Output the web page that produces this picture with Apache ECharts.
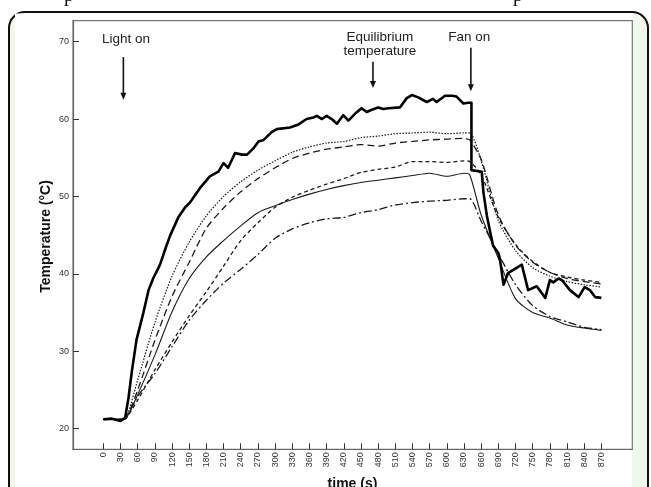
<!DOCTYPE html>
<html><head><meta charset="utf-8">
<script src="https://cdn.jsdelivr.net/npm/echarts@6/dist/echarts.min.js"></script>
<style>html,body{margin:0;padding:0;background:#fff;}#c{width:651px;height:487px;}</style>
</head><body><div id="c"></div>
<script>
// ---- data ----
const xTickValues = [0,30,60,90,120,150,180,210,240,270,300,330,360,390,420,450,480,510,540,570,600,630,660,690,720,750,780,810,840,870];
const yTickValues = [20,30,40,50,60,70];

const thickTime = [0,15,30,38,44,50,58,70,79,87,99,110,117,131,143,151,169,186,201,210,218,230,242,251,262,271,280,294,303,326,341,355,367,373,382,390,399,408,419,428,440,451,460,469,480,489,498,518,530,539,550,565,576,582,597,609,617,629,637,643,643,661,664,670,676,681,690,693,699,707,731,742,757,772,780,786,795,801,815,830,841,850,859,870];
const thickTemp = [21.2,21.3,21.0,21.4,24.0,27.5,31.5,35.0,37.9,39.4,41.2,43.6,45.0,47.3,48.6,49.2,51.1,52.6,53.2,54.3,53.7,55.6,55.4,55.4,56.2,57.1,57.3,58.3,58.7,58.9,59.3,60.0,60.2,60.4,60.0,60.4,60.0,59.4,60.5,59.8,60.7,61.4,60.9,61.2,61.5,61.3,61.4,61.5,62.7,63.1,62.8,62.2,62.6,62.2,63.0,63.0,62.9,62.0,62.1,62.1,53.4,53.2,50.5,47.5,45.3,43.6,42.7,41.8,38.6,40.1,41.2,37.9,38.4,36.9,39.2,38.9,39.4,39.2,37.9,37.0,38.3,37.9,37.0,36.9];

const smoothTime = [0,30,40,60,90,120,150,180,210,240,270,300,330,360,390,420,450,480,510,540,570,600,630,640,660,690,720,750,780,810,840,870];
const dottedTemp   = [21.2,21.2,21.4,26.3,33.7,39.7,44.1,47.5,50.0,51.9,53.4,54.6,55.7,56.4,56.9,57.1,57.6,57.8,58.1,58.2,58.3,58.1,58.2,58.2,54.6,46.9,43.0,40.8,39.7,39.0,38.6,38.3];
const longDashTemp = [21.2,21.2,21.4,25.0,31.4,37.1,41.5,45.9,48.5,50.6,52.3,53.7,54.9,55.6,56.1,56.4,56.7,56.5,56.9,57.1,57.3,57.4,57.5,57.3,54.8,47.6,43.7,41.5,40.2,39.4,39.0,38.7];
const shortDashTemp= [21.2,21.2,21.4,23.7,27.6,31.2,34.6,37.7,41.0,44.3,46.6,48.6,49.9,50.8,51.6,52.3,53.1,53.5,53.8,54.5,54.5,54.4,54.6,54.5,52.8,47.3,43.8,41.6,40.2,39.6,39.2,38.9];
const thinTemp     = [21.2,21.2,21.4,24.4,29.5,35.1,39.4,42.2,44.3,46.2,47.9,48.8,49.6,50.3,50.9,51.4,51.8,52.1,52.4,52.7,53.0,52.6,53.0,52.8,47.6,42.0,36.8,35.0,34.3,33.4,33.0,32.7];
const dashDotTemp  = [21.2,21.2,21.4,24.2,27.1,30.6,34.0,36.6,38.8,40.6,42.5,44.6,45.8,46.6,47.1,47.3,47.9,48.3,48.9,49.2,49.4,49.5,49.7,49.7,46.8,42.6,38.6,35.9,34.5,33.8,33.1,32.8];

const xAxisTitle = 'time (s)';
const yAxisTitle = 'Temperature (°C)';
const annotationText = ['Light on', 'Equilibrium\ntemperature', 'Fan on'];
const annotationTime = [35, 471, 642];

// ---- chart ----
const pairs = (t, v) => t.map((x, i) => [x, v[i]]);
const chart = echarts.init(document.getElementById('c'), null, {renderer: 'canvas'});
const FONT = 'Liberation Sans, Arial, sans-serif';
const thinLine = (name, data, type, width) => ({
  name, type: 'line', data, showSymbol: false, smooth: 0.25, z: 3,
  lineStyle: {color: '#1a1a1a', width: width, type: type}
});
chart.setOption({
  animation: false,
  backgroundColor: 'transparent',
  grid: {left: 73, right: 18.7, top: 20.7, bottom: 37.7, show: true,
         backgroundColor: '#fff', borderColor: '#777', borderWidth: 1.2},
  xAxis: {
    type: 'value', min: -53, max: 924,
    axisLine: {show: true, onZero: false, lineStyle: {color: '#666', width: 1.2}},
    axisTick: {show: true, inside: true, length: 6, customValues: xTickValues, lineStyle: {color: '#333', width: 1}},
    axisLabel: {customValues: xTickValues, rotate: 90, margin: 3, fontSize: 9, color: '#333', fontFamily: FONT},
    splitLine: {show: false}
  },
  yAxis: {
    type: 'value', min: 17.34, max: 72.7,
    axisLine: {show: true, onZero: false, lineStyle: {color: '#666', width: 1.2}},
    axisTick: {show: true, inside: true, length: 6, customValues: yTickValues, lineStyle: {color: '#333', width: 1}},
    axisLabel: {customValues: yTickValues, margin: 4, fontSize: 9, color: '#333', fontFamily: FONT},
    splitLine: {show: false}
  },
  series: [
    thinLine('dotted', pairs(smoothTime, dottedTemp), [1.5, 1.5], 1.2),
    thinLine('longDash', pairs(smoothTime, longDashTemp), [7, 4], 1.3),
    thinLine('shortDash', pairs(smoothTime, shortDashTemp), [4, 3], 1.3),
    thinLine('thin', pairs(smoothTime, thinTemp), 'solid', 1.1),
    thinLine('dashDot', pairs(smoothTime, dashDotTemp), [8, 3, 2, 3], 1.3),
    {name: 'thick', type: 'line', data: pairs(thickTime, thickTemp), showSymbol: false, z: 4,
     lineStyle: {color: '#000', width: 2.6, join: 'round'}}
  ]
});

// ---- annotations (positions in data units) ----
const labelPos = [[39.6, 70.3], [483, 69.6], [639, 70.6]];
const arrowSpan = [[68.0, 62.5], [67.4, 64.0], [69.2, 63.6]];
const px = (t, v) => chart.convertToPixel({gridIndex: 0}, [t, v]);
const g = [];
// page frame
g.push({type: 'rect', z: -20, shape: {x: 9, y: 12, width: 639, height: 500, r: 16},
        style: {fill: '#f2f7ee', stroke: '#111', lineWidth: 2}});
g.push({type: 'rect', z: -19, shape: {x: 15, y: 13.5, width: 617, height: 480},
        style: {fill: '#fff'}});
// cut-off text from page above
g.push({type: 'text', z: -18, x: 64, y: 6, style: {text: 'p', font: '20px "Liberation Serif"', fill: '#111', verticalAlign: 'bottom'}});
g.push({type: 'text', z: -18, x: 513, y: 6, style: {text: 'p', font: '20px "Liberation Serif"', fill: '#111', verticalAlign: 'bottom'}});
// axis titles
g.push({type: 'text', z: 10, x: 352.5, y: 484,
        style: {text: xAxisTitle, font: 'bold 14px ' + FONT, fill: '#111', align: 'center', verticalAlign: 'middle'}});
g.push({type: 'text', z: 10, x: 46, y: 236.5, rotation: Math.PI / 2,
        style: {text: yAxisTitle, font: 'bold 14px ' + FONT, fill: '#111', align: 'center', verticalAlign: 'middle'}});
annotationText.forEach((txt, i) => {
  const lp = px(labelPos[i][0], labelPos[i][1]);
  g.push({type: 'text', z: 10, x: lp[0], y: lp[1],
          style: {text: txt, font: '13.5px ' + FONT, fill: '#222', align: 'center', verticalAlign: 'middle', lineHeight: 14}});
  const a = px(annotationTime[i], arrowSpan[i][0]);
  const b = px(annotationTime[i], arrowSpan[i][1]);
  g.push({type: 'line', z: 10, shape: {x1: a[0], y1: a[1], x2: b[0], y2: b[1] - 5},
          style: {stroke: '#111', lineWidth: 1.6}});
  g.push({type: 'polygon', z: 10, shape: {points: [[b[0] - 3, b[1] - 7], [b[0] + 3, b[1] - 7], [b[0], b[1]]]},
          style: {fill: '#111'}});
});
chart.setOption({graphic: g});
</script>
</body></html>
